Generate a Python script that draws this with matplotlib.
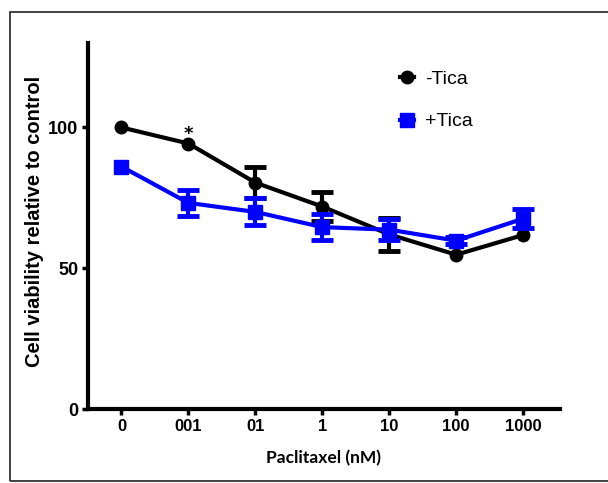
import matplotlib
matplotlib.use("Agg")
import matplotlib.pyplot as plt
import matplotlib.patches as patches
from matplotlib.lines import Line2D

# data
doses = ["0", "001", "01", "1", "10", "100", "1000"]
minus_tica = [100, 94.3, 80.4, 71.9, 62.0, 54.8, 61.8]
minus_tica_err = [0, 0, 5.4, 5.3, 5.8, 0, 0]
plus_tica = [86.1, 73.2, 70.0, 64.6, 63.7, 59.8, 67.6]
plus_tica_err = [0, 4.7, 4.8, 4.7, 3.7, 1.2, 3.3]

fig = plt.figure(figsize=(6.08, 4.83), dpi=100)
ax = fig.add_axes([88 / 608, 1 - 409 / 483, (560 - 88) / 608, (409 - 43) / 483])

# outer frame around the figure (right edge falls outside the image)
frame = patches.Rectangle((10 / 608, 1 - 481 / 483), 1.1, (481 - 12) / 483,
                          transform=fig.transFigure, fill=False,
                          edgecolor="#333333", linewidth=1.3)
fig.patches.append(frame)

x = list(range(len(doses)))


def draw_series(y, err, color, marker, ms, z):
    ax.plot(x, y, color=color, lw=3, marker=marker, markersize=ms, zorder=z)
    # error bars only where there is a spread (none drawn for zero SEM)
    idx = [i for i in x if err[i] > 0]
    ax.errorbar([x[i] for i in idx], [y[i] for i in idx],
                yerr=[err[i] for i in idx], fmt="none", ecolor=color,
                elinewidth=3, capsize=8, capthick=3.5, zorder=z)


draw_series(minus_tica, minus_tica_err, "black", "o", 9, 3)
draw_series(plus_tica, plus_tica_err, "#0000ff", "s", 9.5, 4)

ax.annotate("*", (1, minus_tica[1]), xytext=(0, 13), textcoords="offset points",
            ha="center", va="top", fontsize=13, fontweight="bold")

ax.set_xlim(-0.5, 6.55)
ax.set_ylim(0, 130)
ax.set_yticks([0, 50, 100])
ax.set_xticks(x)
ax.set_xticklabels(doses)

for s in ["top", "right"]:
    ax.spines[s].set_visible(False)
for s in ["left", "bottom"]:
    ax.spines[s].set_linewidth(3)

ax.tick_params(axis="both", direction="out", length=4, width=2.5, pad=3)
for lab in ax.get_yticklabels():
    lab.set_fontsize(13)
    lab.set_fontweight("bold")
    lab.set_family(["Liberation Sans", "DejaVu Sans"])
for lab in ax.get_xticklabels():
    lab.set_fontsize(12)
    lab.set_fontweight("bold")
    lab.set_family(["Liberation Sans Narrow", "Liberation Sans", "DejaVu Sans"])

fig.text(35 / 608, 1 - 221 / 483, "Cell viability relative to control",
         rotation=90, ha="center", va="center", fontsize=14.5,
         fontweight="bold", family=["Liberation Sans", "DejaVu Sans"])
fig.text(323 / 608, 1 - 458 / 483, "Paclitaxel (nM)", ha="center",
         va="center", fontsize=12.5, fontweight="bold", family=["Lato", "DejaVu Sans"])

handles = [
    Line2D([], [], color="black", marker="o", markersize=9, lw=3),
    Line2D([], [], color="#0000ff", marker="s", markersize=9.5, lw=3),
]
ax.legend(handles, ["-Tica", "+Tica"], loc="upper left",
          bbox_to_anchor=(400 / 608, 1 - 70 / 483),
          bbox_transform=fig.transFigure, frameon=False, handlelength=0.7,
          handletextpad=0.6, labelspacing=1.3, borderpad=0, borderaxespad=0,
          prop={"family": ["Liberation Sans", "DejaVu Sans"], "size": 14})

fig.savefig("out.png", dpi=100)
